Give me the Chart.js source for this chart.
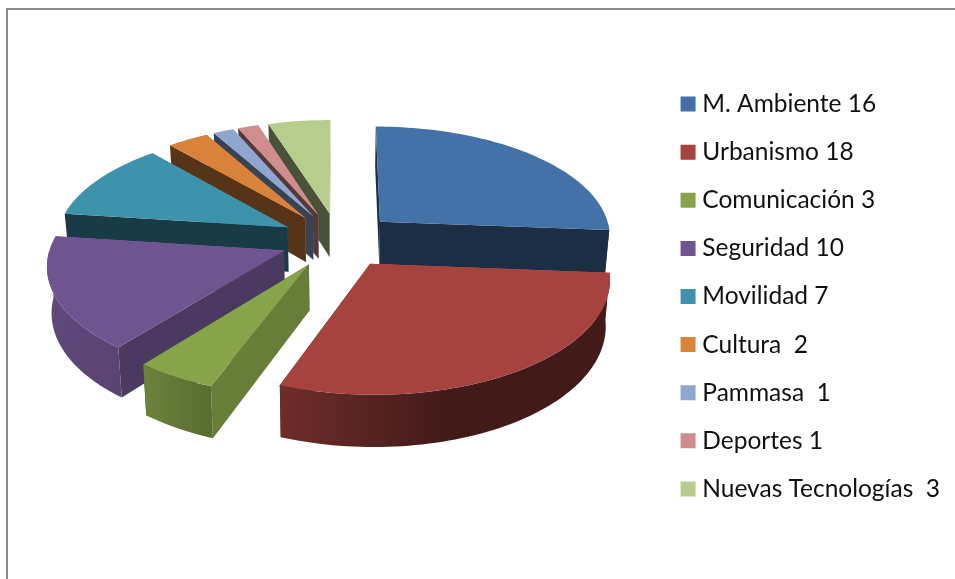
<!DOCTYPE html>
<html>
<head>
<meta charset="utf-8">
<script src="https://cdn.jsdelivr.net/npm/chart.js@4"></script>
<style>
  html, body { margin: 0; padding: 0; background: #fff; overflow: hidden; }
  #wrap { position: relative; width: 955px; height: 579px; overflow: hidden; }
  #frame { position: absolute; left: 6px; top: 8px; right: -5px; bottom: -5px;
           border-left: 2px solid #888; border-top: 2px solid #888; }
  #holder { position: absolute; left: 0; top: 0; width: 950px; height: 593px; }
</style>
</head>
<body>
<div id="wrap">
  <div id="frame"></div>
  <div id="holder"><canvas id="chart" width="950" height="593"></canvas></div>
</div>
<script>
const labels = ['M. Ambiente 16', 'Urbanismo 18', 'Comunicación 3', 'Seguridad 10', 'Movilidad 7',
  'Cultura  2', 'Pammasa  1', 'Deportes 1', 'Nuevas Tecnologías  3'];
const values = [16, 18, 3, 10, 7, 2, 1, 1, 3];
const colors = ['#4472a8', '#a6433f', '#87a44b', '#6f5590', '#3e93ac', '#d8823a', '#8fa6cf', '#cf8e8d', '#b6cd8e'];

// 3D look, the pie lies on a tilted plane and is seen in perspective
const tilt = 110 / 232;
const perspective = 0.115;
const depth = 45;
const lean = 0.00035;
const liftY = -56.5;

function shade(hex, b) {
  const n = parseInt(hex.slice(1), 16);
  const c = [n >> 16, (n >> 8) & 255, n & 255].map(v => Math.round(v * b));
  return `rgb(${c[0]},${c[1]},${c[2]})`;
}

// brightness of the outer wall, by the compass direction it faces
function wallLight(n) {
  if (n < 165) return 0.4;
  if (n < 218) return 0.4 + (n - 165) * 0.0075;
  return 0.8 + Math.min(n - 218, 40) * 0.002;
}

// brightness of a cut face
function faceLight(n) {
  return n < 180 ? 0.77 - (n - 110) * 0.0056 : 0.4;
}

const pie3d = {
  id: 'pie3d',
  beforeDatasetsDraw(chart) {
    const ctx = chart.ctx;
    const arcs = chart.getDatasetMeta(0).data;

    const slices = arcs.map((arc, i) => {
      const mid = (arc.startAngle + arc.endAngle) / 2;
      const off = arc.options.offset / 4;
      return {
        i, arc, mid,
        r: arc.outerRadius,
        ox: Math.cos(mid) * off,
        oy: Math.sin(mid) * off
      };
    }).sort((a, b) => a.oy - b.oy);

    const project = (arc, x, y, z) => {
      const k = 1 / (1 - perspective * y / arc.outerRadius);
      return [arc.x + x * k * (1 - z * lean), arc.y + liftY + (y * tilt + z) * k];
    };
    const fillPath = (pts, color) => {
      ctx.beginPath();
      pts.forEach((p, j) => (j ? ctx.lineTo(p[0], p[1]) : ctx.moveTo(p[0], p[1])));
      ctx.closePath();
      ctx.fillStyle = color;
      ctx.fill();
    };

    slices.forEach(s => {
      const arc = s.arc;
      const color = colors[s.i];
      const rim = (a, z) => project(arc, s.ox + Math.cos(a) * s.r, s.oy + Math.sin(a) * s.r, z);
      const apex = z => project(arc, s.ox, s.oy, z);
      const toDeg = a => ((a + Math.PI / 2) * 180 / Math.PI + 360) % 360;

      // cut faces
      const startN = toDeg(arc.startAngle) - 90;
      const endN = toDeg(arc.endAngle) + 90;
      fillPath([apex(0), rim(arc.endAngle, 0), rim(arc.endAngle, depth), apex(depth)], shade(color, faceLight(endN % 360)));
      fillPath([apex(0), rim(arc.startAngle, 0), rim(arc.startAngle, depth), apex(depth)], shade(color, faceLight((startN + 360) % 360)));

      // outer wall, the gradient runs left to right along the visible part
      const step = Math.PI / 120;
      const angles = [];
      for (let a = arc.startAngle; a < arc.endAngle; a += step) {
        if (Math.sin(a) > 0) angles.push(a);
      }
      if (Math.sin(arc.endAngle) > 0) angles.push(arc.endAngle);
      if (angles.length > 1) {
        const topEdge = angles.map(a => rim(a, 0));
        const lowEdge = angles.map(a => rim(a, depth)).reverse();
        const x0 = topEdge[0][0];
        const x1 = topEdge[topEdge.length - 1][0];
        const grad = ctx.createLinearGradient(x0, 0, x1, 0);
        angles.forEach((a, j) => {
          const at = Math.min(1, Math.max(0, (topEdge[j][0] - x0) / (x1 - x0)));
          grad.addColorStop(at, shade(color, wallLight(toDeg(a))));
        });
        fillPath(topEdge.concat(lowEdge), grad);
      }

      // top
      const top = [apex(0)];
      for (let a = arc.startAngle; a < arc.endAngle; a += step) top.push(rim(a, 0));
      top.push(rim(arc.endAngle, 0));
      fillPath(top, color);
    });
    return false;
  }
};

new Chart(document.getElementById('chart'), {
  type: 'pie',
  data: {
    labels: labels,
    datasets: [{
      data: values,
      backgroundColor: colors,
      borderWidth: 0,
      offset: 232
    }]
  },
  options: {
    responsive: false,
    animation: false,
    radius: 232,
    layout: { padding: { left: 14 } },
    plugins: {
      tooltip: { enabled: false },
      legend: {
        position: 'right',
        labels: {
          font: { family: 'Lato', size: 24.5 },
          color: '#111',
          usePointStyle: true,
          pointStyle: 'rect',
          boxWidth: 4,
          boxHeight: 15,
          padding: 23.6
        }
      }
    }
  },
  plugins: [pie3d]
});
</script>
</body>
</html>
